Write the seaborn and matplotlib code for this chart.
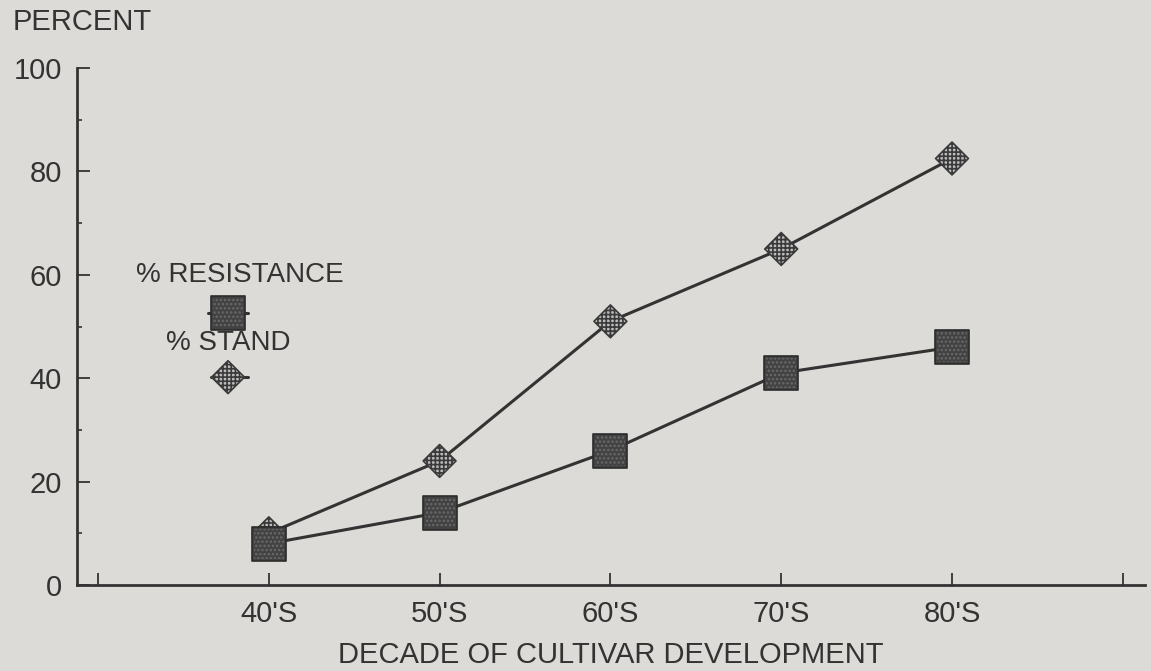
import matplotlib
matplotlib.use("Agg")
import matplotlib.pyplot as plt
import seaborn as sns
import pandas as pd

# Decade of cultivar development (numeric decade) and labels
decades = [40, 50, 60, 70, 80]
decade_labels = ["40'S", "50'S", "60'S", "70'S", "80'S"]
# Percent values per decade
pct_resistance = [8, 14, 26, 41, 46]
pct_stand = [10, 24, 51, 65, 82.5]

df = pd.DataFrame({"decade": decades,
                   "resistance": pct_resistance,
                   "stand": pct_stand})

BG = "#dcdbd7"
INK = "#333333"

sns.set_style("ticks", {"axes.facecolor": BG, "figure.facecolor": BG,
                        "axes.edgecolor": INK, "xtick.color": INK,
                        "ytick.color": INK, "text.color": INK,
                        "axes.labelcolor": INK})
plt.rcParams["font.family"] = ["Liberation Sans", "DejaVu Sans"]
plt.rcParams["hatch.linewidth"] = 1.2

SQ_S, SQ_IN, DM_S = 620, 470, 280

fig = plt.figure(figsize=(11.51, 6.71), dpi=100)
ax = fig.add_axes([77 / 1151, 1 - 585 / 671, 1068 / 1151, 517 / 671])

# Stand series: line plus checkered diamonds
sns.lineplot(data=df, x="decade", y="stand", ax=ax, color=INK, lw=2.2,
             zorder=2)
sns.scatterplot(data=df, x="decade", y="stand", ax=ax, marker="D", s=DM_S,
                facecolor="#bdbdbd", edgecolor="#3a3a3a", linewidth=1.2,
                hatch="++++", zorder=3)

# Resistance series: line plus dark squares
sns.lineplot(data=df, x="decade", y="resistance", ax=ax, color=INK, lw=2.2,
             zorder=4)
sns.scatterplot(data=df, x="decade", y="resistance", ax=ax, marker="s",
                s=SQ_S, facecolor="#424242", edgecolor="#2c2c2c",
                linewidth=1.2, zorder=5)
sns.scatterplot(data=df, x="decade", y="resistance", ax=ax, marker="s",
                s=SQ_IN, facecolor="none", edgecolor="#6a6a6a",
                linewidth=0, hatch="....", zorder=6)

ax.set_xlim(28.77, 91.3)
ax.set_ylim(0, 100)
ax.set_xticks([30] + decades + [90])
ax.set_xticklabels([""] + decade_labels + [""])
ax.set_yticks([0, 20, 40, 60, 80, 100])
ax.set_yticks([10, 30, 50, 70, 90], minor=True)
ax.tick_params(axis="both", which="major", direction="in", length=9,
               width=1.3, labelsize=21, colors=INK)
ax.tick_params(axis="x", pad=11)
ax.tick_params(axis="y", pad=11)
ax.tick_params(axis="y", which="minor", direction="in", length=3.5,
               width=1.2)
for side in ("top", "right"):
    ax.spines[side].set_visible(False)
for side in ("left", "bottom"):
    ax.spines[side].set_linewidth(2)

ax.set_xlabel("DECADE OF CULTIVAR DEVELOPMENT", fontsize=21, labelpad=9)
ax.set_ylabel("")
fig.text(13 / 1151, 1 - 22 / 671, "PERCENT", fontsize=21, va="center",
         ha="left", color=INK)

# Legend block: label above each marker, marker with short line stubs
ax.text(0.1526, 0.5996, "% RESISTANCE", transform=ax.transAxes,
        fontsize=20, ha="center", va="center")
ax.plot([0.123, 0.160], [0.526, 0.526], transform=ax.transAxes, color=INK,
        lw=2.2, zorder=4)
ax.scatter([0.1414], [0.526], transform=ax.transAxes, marker="s", s=SQ_S,
           facecolor="#424242", edgecolor="#2c2c2c", linewidth=1.2,
           zorder=5)
ax.scatter([0.1414], [0.526], transform=ax.transAxes, marker="s", s=SQ_IN,
           facecolor="none", edgecolor="#6a6a6a", linewidth=0,
           hatch="....", zorder=6)
ax.text(0.1414, 0.468, "% STAND", transform=ax.transAxes, fontsize=20,
        ha="center", va="center")
ax.plot([0.125, 0.160], [0.402, 0.402], transform=ax.transAxes, color=INK,
        lw=2.2, zorder=2)
ax.scatter([0.1414], [0.402], transform=ax.transAxes, marker="D", s=DM_S,
           facecolor="#bdbdbd", edgecolor="#3a3a3a", linewidth=1.2,
           hatch="++++", zorder=3)

fig.savefig("out.png", dpi=100, facecolor=BG)
